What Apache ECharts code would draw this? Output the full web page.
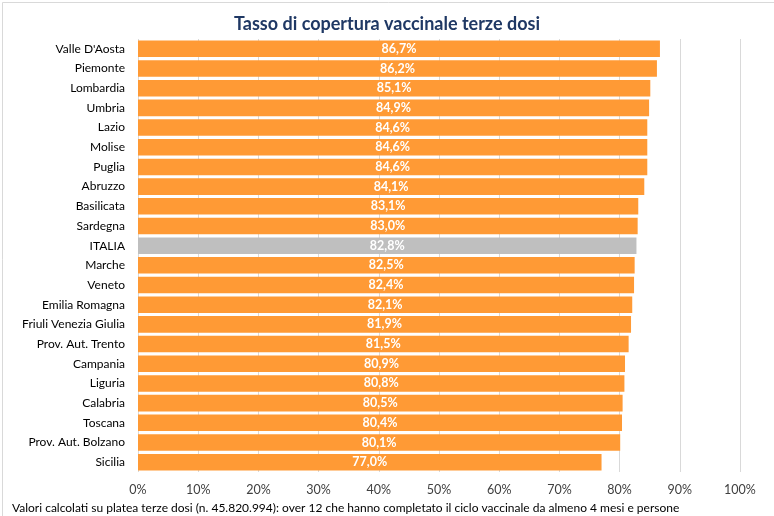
<!DOCTYPE html>
<html><head><meta charset="utf-8">
<script src="https://cdn.jsdelivr.net/npm/echarts@6/dist/echarts.min.js"></script>
<style>html,body{margin:0;padding:0;background:#fff;}#c{width:774px;height:516px;}</style>
</head><body><div id="c"></div>
<script>
const regions = ["Valle D'Aosta","Piemonte","Lombardia","Umbria","Lazio","Molise","Puglia","Abruzzo","Basilicata","Sardegna","ITALIA","Marche","Veneto","Emilia Romagna","Friuli Venezia Giulia","Prov. Aut. Trento","Campania","Liguria","Calabria","Toscana","Prov. Aut. Bolzano","Sicilia"];
const coverage = [86.7,86.2,85.1,84.9,84.6,84.6,84.6,84.1,83.1,83.0,82.8,82.5,82.4,82.1,81.9,81.5,80.9,80.8,80.5,80.4,80.1,77.0];
const titleText = "Tasso di copertura vaccinale terze dosi";
const footnote = "Valori calcolati su platea terze dosi (n. 45.820.994): over 12 che hanno completato il ciclo vaccinale da almeno 4 mesi e persone";
const FONT = "Lato,sans-serif";
const chart = echarts.init(document.getElementById('c'), null, {renderer:'canvas'});
const data = coverage.map((v,i)=>({value:v,itemStyle:{color: regions[i]==='ITALIA' ? '#BFBFBF' : '#FF9A35'}}));
chart.setOption({
  animation:false,
  backgroundColor:'#fff',
  title:{text:titleText,left:'center',top:10,textStyle:{fontFamily:FONT,fontSize:18,fontWeight:'bold',color:'#1F3864'}},
  graphic:[
    {type:'rect',left:0,top:0,shape:{width:773,height:515},style:{fill:'none',stroke:'#D9D9D9',lineWidth:1}},
    {type:'text',left:12,top:502,style:{text:footnote,font:"12px "+FONT,fill:'#000'}}
  ],
  grid:{left:138,right:34,top:39,bottom:44},
  xAxis:{type:'value',min:0,max:100,interval:10,
    axisLabel:{formatter:'{value}%',fontFamily:FONT,fontSize:12.5,color:'#404040',margin:11},
    splitLine:{lineStyle:{color:'#D9D9D9',width:1}},axisLine:{show:false},axisTick:{show:false}},
  yAxis:{type:'category',inverse:true,data:regions,
    axisLabel:{fontFamily:FONT,fontSize:12,color:'#000',margin:13},
    axisLine:{show:false},axisTick:{show:false}},
  series:[{type:'bar',data:data,barCategoryGap:'16%',
    label:{show:true,position:'inside',formatter:p=>p.value.toFixed(1).replace('.',',')+'%',
      fontFamily:FONT,fontSize:12.5,fontWeight:'bold',color:'#fff'}}]
});
</script></body></html>
